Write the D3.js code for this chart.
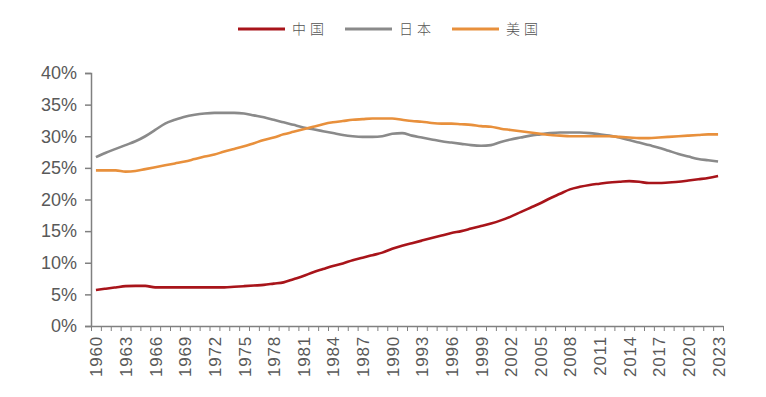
<!DOCTYPE html>
<html>
<head>
<meta charset="utf-8">
<script src="https://cdn.jsdelivr.net/npm/d3@7.9.0/dist/d3.min.js"></script>
<style>
  body { margin: 0; background: #fff; }
  svg { display: block; }
  .tick text { fill: #595959; font-family: "Liberation Sans", Arial, sans-serif; }
</style>
</head>
<body>
<div id="chart"></div>
<script>
// Years on the x axis
const years = d3.range(1960, 2024);

// Share values (%)
const china = [5.7, 5.9, 6.1, 6.3, 6.35, 6.35, 6.1, 6.1, 6.1, 6.1,
  6.1, 6.1, 6.1, 6.1, 6.2, 6.3, 6.4, 6.5, 6.7, 6.9,
  7.4, 7.9, 8.5, 9.0, 9.5, 9.9, 10.4, 10.8, 11.2, 11.6,
  12.2, 12.7, 13.1, 13.5, 13.9, 14.3, 14.7, 15.0, 15.4, 15.8,
  16.2, 16.7, 17.3, 18.0, 18.7, 19.4, 20.2, 20.9, 21.6, 22.0,
  22.3, 22.5, 22.7, 22.8, 22.9, 22.8, 22.6, 22.6, 22.7, 22.8,
  23.0, 23.2, 23.4, 23.7];

const japan = [26.7, 27.4, 28.0, 28.6, 29.2, 30.0, 31.0, 32.0, 32.6, 33.1,
  33.4, 33.6, 33.7, 33.7, 33.7, 33.6, 33.3, 33.0, 32.6, 32.2,
  31.8, 31.4, 31.1, 30.8, 30.5, 30.2, 30.0, 29.9, 29.9, 30.0,
  30.4, 30.5, 30.1, 29.8, 29.5, 29.2, 29.0, 28.8, 28.6, 28.5,
  28.6, 29.1, 29.5, 29.8, 30.1, 30.3, 30.5, 30.6, 30.6, 30.6,
  30.5, 30.3, 30.1, 29.8, 29.4, 29.0, 28.6, 28.2, 27.7, 27.2,
  26.8, 26.4, 26.2, 26.0];

const usa = [24.6, 24.6, 24.6, 24.4, 24.5, 24.8, 25.1, 25.4, 25.7, 26.0,
  26.4, 26.8, 27.1, 27.6, 28.0, 28.4, 28.9, 29.4, 29.8, 30.3,
  30.7, 31.1, 31.5, 31.9, 32.2, 32.4, 32.6, 32.7, 32.8, 32.8,
  32.8, 32.6, 32.4, 32.3, 32.1, 32.0, 32.0, 31.9, 31.8, 31.6,
  31.5, 31.2, 31.0, 30.8, 30.6, 30.4, 30.2, 30.1, 30.0, 30.0,
  30.0, 30.0, 30.0, 29.9, 29.8, 29.7, 29.7, 29.8, 29.9, 30.0,
  30.1, 30.2, 30.3, 30.3];

const seriesNames = ['中国', '日本', '美国'];
const seriesColors = ['#a8141a', '#8a8a8a', '#e8903c'];
const yTicks = [0, 5, 10, 15, 20, 25, 30, 35, 40];

const width = 766;
const height = 397;

const svg = d3.select('#chart')
  .append('svg')
  .attr('width', width)
  .attr('height', height);

// Plot area
const margin = { top: 73, right: 43, bottom: 71, left: 91 };

const xScale = d3.scaleLinear()
  .domain([years[0] - 0.5, years[years.length - 1] + 0.5])
  .range([margin.left, width - margin.right]);

const yScale = d3.scaleLinear()
  .domain([0, 40])
  .range([height - margin.bottom, margin.top]);

// Lines
const line = d3.line()
  .x((d, i) => xScale(years[i]))
  .y((d) => yScale(d))
  .curve(d3.curveMonotoneX);

const allSeries = [china, japan, usa];
svg.append('g')
  .selectAll('path')
  .data(allSeries)
  .join('path')
  .attr('d', (d) => line(d))
  .attr('fill', 'none')
  .attr('stroke', (d, i) => seriesColors[i])
  .attr('stroke-width', 2.6)
  .attr('stroke-linejoin', 'round');

// Y axis
const yAxis = svg.append('g')
  .attr('transform', `translate(${margin.left},0)`)
  .call(d3.axisLeft(yScale).tickValues(yTicks).tickSize(6).tickPadding(8).tickFormat((d) => d + '%'));
yAxis.select('.domain').attr('stroke', '#808080').attr('stroke-width', 1.5);
yAxis.selectAll('.tick line').attr('stroke', '#808080').attr('stroke-width', 1.5);
yAxis.selectAll('.tick text').style('font-size', '18px');

// X axis: boundary ticks between years
const bounds = years.map((y) => y - 0.5).concat([years[years.length - 1] + 0.5]);
const xTickAxis = svg.append('g')
  .attr('transform', `translate(0,${height - margin.bottom})`)
  .call(d3.axisBottom(xScale).tickValues(bounds).tickSize(5).tickFormat('').tickSizeOuter(0));
xTickAxis.select('.domain').attr('stroke', '#808080').attr('stroke-width', 1.5);
xTickAxis.selectAll('.tick line').attr('stroke', '#808080').attr('stroke-width', 1);

// X axis labels every 3 years, rotated
const labelYears = years.filter((y, i) => i % 3 === 0);
const xLabelAxis = svg.append('g')
  .attr('transform', `translate(0,${height - margin.bottom})`)
  .call(d3.axisBottom(xScale).tickValues(labelYears).tickSize(0).tickFormat(d3.format('d')));
xLabelAxis.select('.domain').remove();
xLabelAxis.selectAll('.tick text')
  .style('font-size', '17px')
  .style('letter-spacing', '0.8px')
  .attr('text-anchor', 'end')
  .attr('transform', 'rotate(-90)')
  .attr('x', -10)
  .attr('y', 0)
  .attr('dy', '0.35em');

// Legend
const legendX = [238, 345, 452];
const legend = svg.append('g')
  .selectAll('g')
  .data(seriesNames)
  .join('g')
  .attr('transform', (d, i) => `translate(${legendX[i]},29)`);

legend.append('line')
  .attr('x1', 0)
  .attr('x2', 47)
  .attr('stroke', (d, i) => seriesColors[i])
  .attr('stroke-width', 3);

legend.append('text')
  .attr('x', 54)
  .attr('dy', '0.36em')
  .attr('fill', '#555')
  .style('font-family', '"Noto Sans CJK SC", sans-serif')
  .style('font-size', '14px')
  .style('font-weight', 300)
  .style('letter-spacing', '4px')
  .text((d) => d);
</script>
</body>
</html>
